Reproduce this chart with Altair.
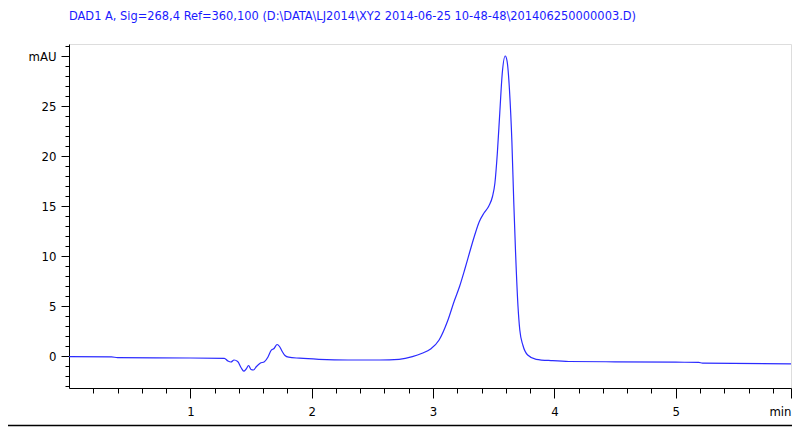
import altair as alt
import pandas as pd

# Chromatogram trace (time in min, signal in mAU)
time_min = [0.0, 0.35, 0.40, 1.00, 1.28, 1.31, 1.335, 1.36, 1.39, 1.42, 1.44, 1.46,
            1.48, 1.50, 1.52, 1.545, 1.575, 1.61, 1.64, 1.665, 1.69, 1.715, 1.735,
            1.755, 1.78, 1.81, 1.90, 2.06, 2.30, 2.56, 2.72, 2.83, 2.91, 2.98, 3.05,
            3.12, 3.175, 3.22, 3.26, 3.30, 3.34, 3.38, 3.42, 3.46, 3.49, 3.51, 3.53,
            3.55, 3.57, 3.595, 3.61, 3.63, 3.65, 3.665, 3.68, 3.70, 3.715, 3.74,
            3.78, 3.85, 3.985, 4.12, 4.50, 5.00, 5.19, 5.22, 5.95]
signal_mau = [-0.06, -0.08, -0.17, -0.20, -0.23, -0.50, -0.60, -0.40, -0.55, -1.20,
              -1.52, -1.30, -0.95, -1.35, -1.40, -1.05, -0.72, -0.57, -0.10, 0.55,
              0.75, 1.15, 0.95, 0.50, 0.05, -0.12, -0.22, -0.33, -0.40, -0.40, -0.33,
              -0.07, 0.27, 0.70, 1.60, 3.50, 5.50, 7.00, 8.60, 10.30, 11.95, 13.40,
              14.30, 15.00, 15.95, 17.30, 20.30, 24.30, 28.20, 30.00, 29.50, 26.60,
              21.40, 15.50, 10.40, 5.00, 2.60, 1.10, 0.10, -0.33, -0.47, -0.55, -0.58,
              -0.62, -0.63, -0.72, -0.78]

x_end = 5.95
x_ticks = [0.2, 0.4, 0.6, 0.8, 1.0, 1.2, 1.4, 1.6, 1.8, 2.0, 2.2, 2.4, 2.6, 2.8, 3.0,
           3.2, 3.4, 3.6, 3.8, 4.0, 4.2, 4.4, 4.6, 4.8, 5.0, 5.2, 5.4, 5.6, 5.8, x_end]
y_ticks = [-3, -2, -1, 0, 1, 2, 3, 4, 5, 6, 7, 8, 9, 10, 11, 12, 13, 14, 15, 16, 17,
           18, 19, 20, 21, 22, 23, 24, 25, 26, 27, 28, 29, 30, 31]

title_text = "DAD1 A, Sig=268,4 Ref=360,100 (D:\\DATA\\LJ2014\\XY2 2014-06-25 10-48-48\\201406250000003.D)"

FONT = "Liberation Sans Narrow, DejaVu Sans Condensed, Arial Narrow, sans-serif"

df = pd.DataFrame({"t": time_min, "s": signal_mau})

is_major_x = f"abs(datum.value - round(datum.value)) < 0.001 || datum.value >= {x_end - 0.01}"

line = alt.Chart(df).mark_line(color="#2b2bff", strokeWidth=1.2, interpolate="monotone").encode(
    x=alt.X("t:Q", scale=alt.Scale(domain=[0, x_end], nice=False, zero=False),
            axis=alt.Axis(
                title=None, grid=False, values=x_ticks,
                labelExpr=f"datum.value >= {x_end - 0.01} ? 'min' : (abs(datum.value - round(datum.value)) < 0.001 ? format(datum.value, 'd') : '')",
                labelFlush=True,
                tickSize={"condition": {"test": is_major_x, "value": 10}, "value": 5},
                labelPadding=7, labelFont=FONT, labelFontSize=13, labelColor="#000000",
                domainColor="#000000", tickColor="#000000", domainWidth=1, tickWidth=1)),
    y=alt.Y("s:Q", scale=alt.Scale(domain=[-3.2, 31.2], nice=False, zero=False),
            axis=alt.Axis(
                title=None, grid=False, values=y_ticks,
                labelExpr="datum.value == 30 ? 'mAU' : (datum.value % 5 == 0 ? datum.label : '')",
                tickSize={"condition": {"test": "datum.value % 5 == 0", "value": 8}, "value": 4},
                labelPadding=5, labelFont=FONT, labelFontSize=13, labelColor="#000000",
                domainColor="#000000", tickColor="#000000", domainWidth=1, tickWidth=1)),
)

border = alt.Chart(pd.DataFrame({"k": [0]})).mark_rule(color="#000000", strokeWidth=1.5).encode(
    x=alt.value(-61), x2=alt.value(723), y=alt.value(381.5)
)

chart = alt.layer(line, border).properties(
    width=722, height=344,
    title=alt.TitleParams(title_text, anchor="start", frame="group", font=FONT,
                          fontSize=12.7, fontWeight="normal", color="#1a1aff", offset=21),
    autosize=alt.AutoSizeParams(type="none"),
    padding={"left": 61, "top": 36, "right": 1, "bottom": 39},
).configure_view(stroke=None).configure(background="white")

chart.save("out.html", embed_options={"renderer": "svg", "actions": False})
